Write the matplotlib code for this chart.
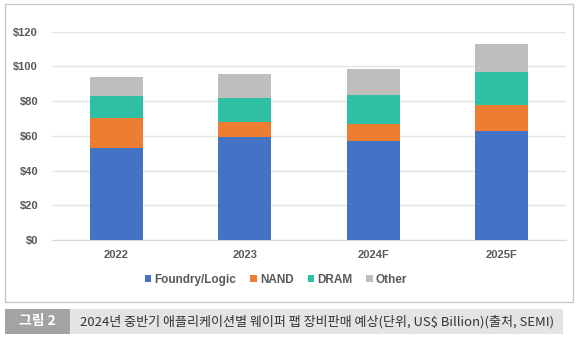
import matplotlib
matplotlib.use("Agg")
import matplotlib.pyplot as plt
from matplotlib.patches import Rectangle
import numpy as np

categories = ["2022", "2023", "2024F", "2025F"]
series_names = ["Foundry/Logic", "NAND", "DRAM", "Other"]
foundry = [53.2, 59.2, 57.0, 63.0]
nand = [16.9, 9.0, 9.6, 14.6]
dram = [12.7, 13.8, 17.1, 19.4]
other = [11.1, 13.6, 14.6, 15.9]
y_ticks = [0, 20, 40, 60, 80, 100, 120]
y_labels = ["$0", "$20", "$40", "$60", "$80", "$100", "$120"]
caption_tag = "그림 2"
caption = "2024년 중반기 애플리케이션별 웨이퍼 팹 장비판매 예상(단위, US$ Billion)(출처, SEMI)"

colors = ["#4472C4", "#ED7D31", "#2EBFA5", "#C0BDBD"]
W, H = 580, 341
fig = plt.figure(figsize=(W / 100, H / 100), dpi=100)
fig.patch.set_facecolor("white")

def fx(px):
    return px / W

def fy(py):
    return 1 - py / H

# chart frame
fig.add_artist(Rectangle((fx(5), fy(302)), fx(573) - fx(5), fy(4) - fy(302),
                         transform=fig.transFigure, fill=False,
                         edgecolor="#C8C8C8", linewidth=1.0))

ax = fig.add_axes([fx(52), fy(240), fx(566) - fx(52), fy(31.7) - fy(240)])
ax.set_ylim(0, 120)
x = np.arange(len(categories))
ax.set_xlim(-0.5, len(categories) - 0.5)
bottom = np.zeros(len(categories))
for name, vals, c in zip(series_names, [foundry, nand, dram, other], colors):
    ax.bar(x, vals, width=0.41, bottom=bottom, color=c, label=name, zorder=3)
    bottom += np.array(vals)

ax.set_yticks(y_ticks)
ax.set_yticklabels(y_labels)
ax.set_xticks(x)
ax.set_xticklabels(categories)
ax.grid(axis="y", color="#E3E3E3", linewidth=1.0, zorder=0)
for s in ["top", "right", "left"]:
    ax.spines[s].set_visible(False)
ax.spines["bottom"].set_color("#D9D9D9")
ax.tick_params(length=0, colors="#595959")
for lab in ax.get_yticklabels() + ax.get_xticklabels():
    lab.set_fontfamily("Liberation Sans")
    lab.set_fontweight("bold")
    lab.set_fontsize(8)
    lab.set_color("#595959")
ax.tick_params(axis="y", pad=10)
ax.tick_params(axis="x", pad=7)

leg = fig.legend(loc="center", bbox_to_anchor=(fx(276), fy(280)), ncol=4,
                 frameon=False, handlelength=0.55, handleheight=0.55,
                 handletextpad=0.25, columnspacing=1.2,
                 prop={"family": "Liberation Sans", "weight": "bold", "size": 8.5})
for t in leg.get_texts():
    t.set_color("#595959")

# caption band
fig.add_artist(Rectangle((fx(5), fy(334)), fx(563) - fx(5), fy(309) - fy(334),
                         transform=fig.transFigure, facecolor="#E4E4E4",
                         edgecolor="none"))
fig.add_artist(Rectangle((fx(5), fy(334)), fx(70) - fx(5), fy(309) - fy(334),
                         transform=fig.transFigure, facecolor="#A3A3A5",
                         edgecolor="none"))
fig.text(fx(37.5), fy(321.5), caption_tag, ha="center", va="center",
         color="white", fontsize=10, fontweight="bold",
         family=["Noto Sans CJK KR", "DejaVu Sans"])
fig.text(fx(80), fy(321.5), caption, ha="left", va="center",
         color="#333333", fontsize=9.4,
         family=["Noto Sans CJK KR", "DejaVu Sans"])

fig.savefig("out.png", dpi=100)
